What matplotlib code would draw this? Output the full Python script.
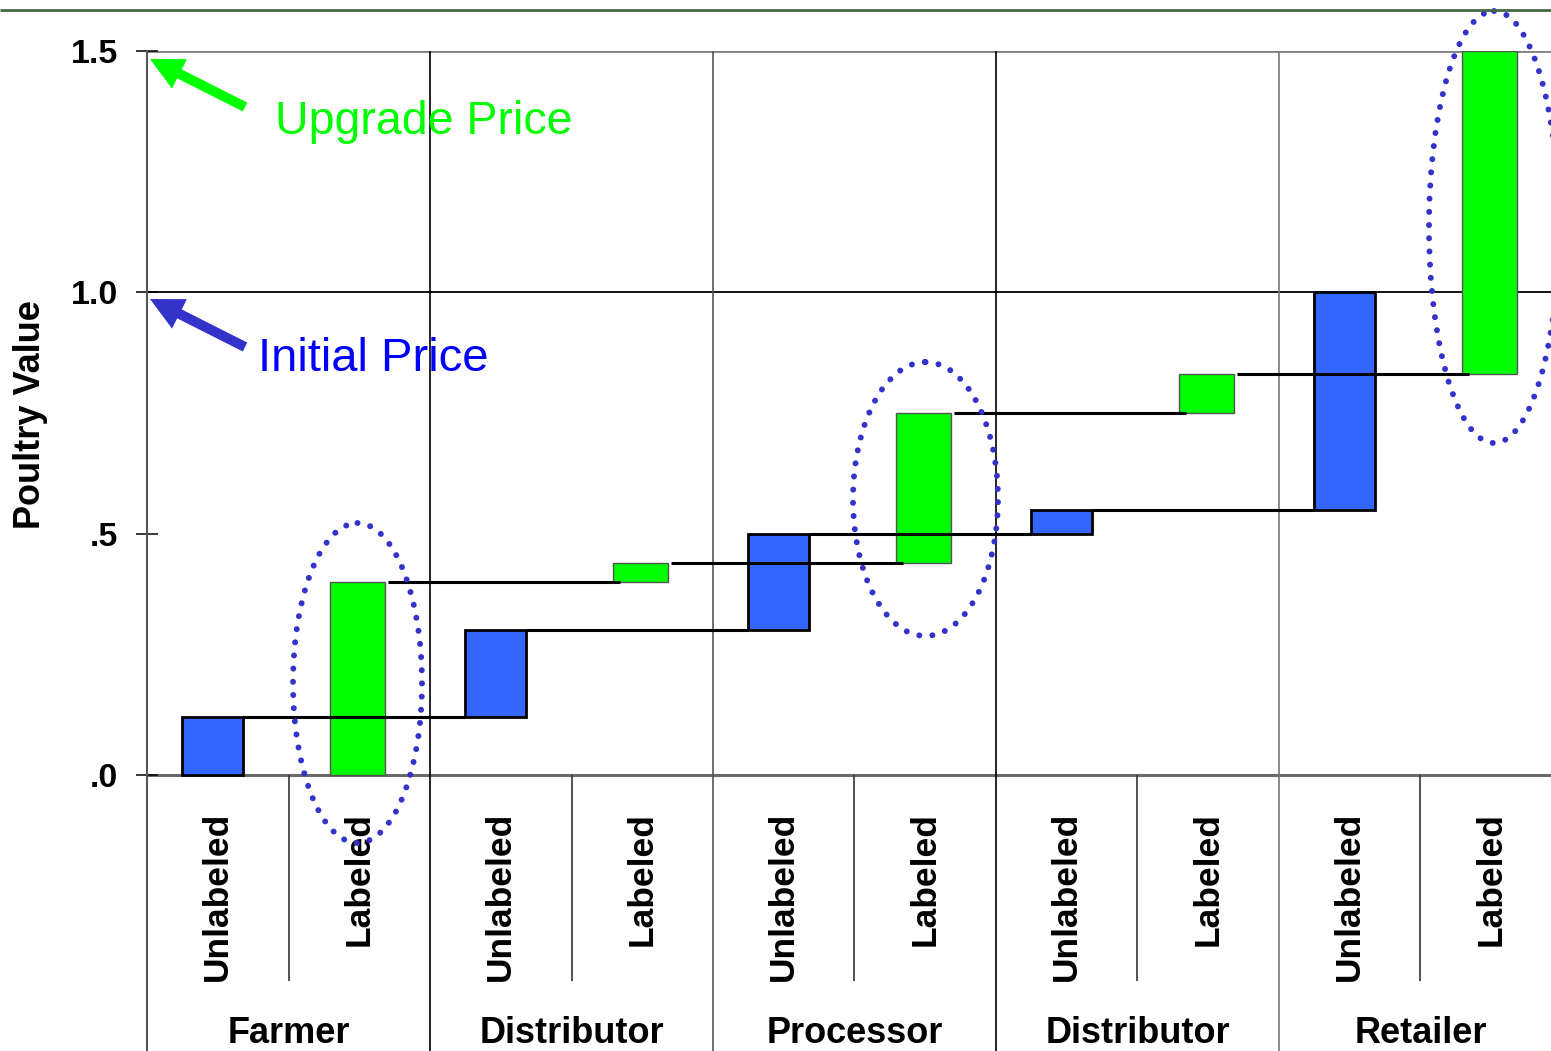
import matplotlib
matplotlib.use("Agg")
import matplotlib.pyplot as plt
from matplotlib.patches import Ellipse
import numpy as np

plt.rcParams['font.family'] = ['Liberation Sans', 'DejaVu Sans']

# ---------------- data ----------------
stages = ["Farmer", "Distributor", "Processor", "Distributor", "Retailer"]
bar_types = ["Unlabeled", "Labeled"]
unlabeled_steps = [0.12, 0.18, 0.20, 0.05, 0.45]
labeled_steps = [0.40, 0.04, 0.31, 0.08, 0.67]
yticks = [0.0, 0.5, 1.0, 1.5]
ytick_labels = [".0", ".5", "1.0", "1.5"]
ylabel = "Poultry Value"
upgrade_text = "Upgrade Price"
initial_text = "Initial Price"

# ---------------- layout ----------------
W, H = 1551, 1051
fig = plt.figure(figsize=(W / 100, H / 100), dpi=100)
fig.patch.set_facecolor("white")

y0_px, y15_px = 775, 51
unit = (y0_px - y15_px) / 1.5
ybot = -(H - y0_px) / unit


def v(px):
    return (y0_px - px) / unit


ax = fig.add_axes([147 / W, 0, 1415 / W, (H - y15_px) / H])
ax.set_xlim(-0.5, 9.5)
ax.set_ylim(ybot, 1.5)
ax.set_facecolor("none")
for s in ["top", "right", "bottom"]:
    ax.spines[s].set_visible(False)
ax.spines["left"].set_color("#555555")
ax.spines["left"].set_linewidth(1.5)
ax.set_xticks([])
ax.set_yticks(yticks)
ax.set_yticklabels(ytick_labels, fontsize=24.5, fontweight="bold")
ax.tick_params(axis="y", direction="inout", length=16, width=1.1, pad=13, color="black")

# gridlines
ax.axhline(1.5, color="#808080", lw=2.0, zorder=1)
ax.axhline(1.0, color="black", lw=1.3, zorder=1)
ax.axhline(0.0, color="#6a6a6a", lw=2.2, zorder=1)

# group separators
sep_x = [1.5, 3.5, 5.5, 7.5]
sep_c = ["black", "#555555", "black", "#777777"]
for x, c in zip(sep_x, sep_c):
    ax.vlines(x, ybot, 1.5, colors=c, lw=1.2, zorder=1)
# sub separators (x-axis area)
ax.vlines([0.5, 2.5, 4.5, 6.5, 8.5], v(981), 0, colors="#333333", lw=1.2, zorder=1)

blue = "#3366FF"
green = "#00FF00"

cum_u = np.cumsum(unlabeled_steps)
cum_l = np.cumsum(labeled_steps)
wu, wl = 0.43, 0.39
off_u, off_l = -0.035, -0.01
xu = np.arange(5) * 2 + off_u
xl = np.arange(5) * 2 + 1 + off_l

ax.bar(xu, unlabeled_steps, bottom=cum_u - np.array(unlabeled_steps), width=wu,
       color=blue, edgecolor="black", linewidth=2.0, zorder=3)
ax.bar(xl, labeled_steps, bottom=cum_l - np.array(labeled_steps), width=wl,
       color=green, edgecolor="#555555", linewidth=1.0, zorder=3)

for k in range(4):
    ax.hlines(cum_u[k], xu[k] + wu / 2, xu[k + 1] - wu / 2, colors="black", lw=2.2, zorder=4)
    ax.hlines(cum_l[k], xl[k] + wl / 2 + 0.02, xl[k + 1] - wl / 2 + 0.05, colors="black", lw=2.2, zorder=4)

# category labels
for i in range(10):
    ax.text(i, v(812), bar_types[i % 2], rotation=90, ha="center", va="top",
            fontsize=25.5, fontweight="bold", color="black")
for k, name in enumerate(stages):
    ax.text(2 * k + 0.5, v(1043), name, ha="center", va="baseline",
            fontsize=26, fontweight="bold", color="black")

fig.text(30 / W, 1 - 415 / H, ylabel, rotation=90, ha="center", va="center",
         fontsize=26, fontweight="bold", color="black")

# ---------------- overlay (annotations) ----------------
ov = fig.add_axes([0, 0, 1, 1], zorder=5)
ov.set_xlim(0, W)
ov.set_ylim(H, 0)
ov.axis("off")
ov.patch.set_alpha(0)

ov.plot([0, W], [10, 10], color="#46664a", lw=2.0, solid_capstyle="butt")

ov.arrow(245, 107, 150 - 245, 59 - 107, width=10, head_width=33, head_length=33,
         length_includes_head=True, color="#00FF00", lw=0)
ov.arrow(245, 347, 150 - 245, 299 - 347, width=10, head_width=33, head_length=33,
         length_includes_head=True, color="#3333CC", lw=0)

ov.text(275, 122, upgrade_text, color="#00FF00", fontsize=33.5, ha="left", va="center")
ov.text(258, 359, initial_text, color="#0000FF", fontsize=34, ha="left", va="center")

for (cx, cy, w, h) in [(357.5, 683, 129, 320), (925.5, 499, 145, 274), (1494, 227, 130, 432)]:
    e = Ellipse((cx, cy), w, h, fill=False, edgecolor="#3333CC", lw=4.3,
                linestyle=(0, (0.01, 2.2)), capstyle="round")
    ov.add_patch(e)

fig.savefig("out.png", dpi=100)
